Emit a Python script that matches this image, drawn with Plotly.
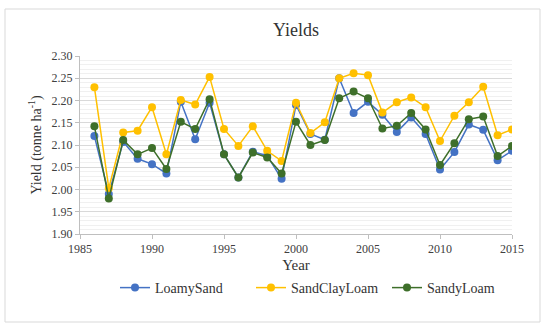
import plotly.graph_objects as go

years = list(range(1986, 2016))
loamy_sand = [2.120, 1.990, 2.107, 2.069, 2.057, 2.036, 2.197, 2.113, 2.195, 2.079,
              2.027, 2.085, 2.076, 2.024, 2.190, 2.125, 2.112, 2.250, 2.172, 2.197,
              2.168, 2.129, 2.162, 2.125, 2.045, 2.084, 2.146, 2.134, 2.066, 2.087]
sand_clay_loam = [2.230, 2.003, 2.128, 2.132, 2.185, 2.079, 2.201, 2.191, 2.253, 2.136,
                  2.098, 2.142, 2.087, 2.064, 2.195, 2.127, 2.151, 2.250, 2.261, 2.257,
                  2.173, 2.196, 2.207, 2.185, 2.109, 2.166, 2.196, 2.231, 2.122, 2.135]
sandy_loam = [2.142, 1.980, 2.111, 2.079, 2.093, 2.046, 2.152, 2.136, 2.203, 2.079,
              2.027, 2.083, 2.072, 2.036, 2.152, 2.100, 2.111, 2.205, 2.220, 2.205,
              2.137, 2.143, 2.172, 2.135, 2.055, 2.104, 2.158, 2.164, 2.075, 2.098]

series = [("LoamySand", loamy_sand, "#4472C4"),
          ("SandClayLoam", sand_clay_loam, "#FFC000"),
          ("SandyLoam", sandy_loam, "#3E6F2A")]

serif = "Liberation Serif, Times New Roman, serif"

fig = go.Figure()
for name, vals, col in series:
    fig.add_trace(go.Scatter(x=years, y=vals, name=name, mode="lines+markers",
                             line=dict(color=col, width=1.5),
                             marker=dict(color=col, size=8)))

L, R, T, B = 80, 38, 56, 97
W, H = 550 - L - R, 331 - T - B

fig.update_layout(
    width=550, height=331,
    margin=dict(l=L, r=R, t=T, b=B, autoexpand=False),
    paper_bgcolor="white", plot_bgcolor="white",
    title=dict(text="Yields", x=0.5, xanchor="center", y=1 - 30 / 331, yanchor="middle",
               xref="paper", font=dict(family=serif, size=18, color="#333333")),
    font=dict(family=serif, size=12, color="#404040"),
    showlegend=True,
    legend=dict(orientation="h", x=(319 - L) / W, xanchor="center",
                y=-(288 - 234) / H, yanchor="middle",
                font=dict(family=serif, size=14, color="#333333"),
                itemwidth=30, entrywidth=91, entrywidthmode="pixels",
                bgcolor="rgba(0,0,0,0)"),
    xaxis=dict(range=[1985, 2015], tickvals=[1985, 1990, 1995, 2000, 2005, 2010, 2015],
               showgrid=False, showline=True, linecolor="#BFBFBF", linewidth=1,
               ticks="outside", ticklen=4, tickcolor="#BFBFBF", zeroline=False,
               automargin=False,
               title=dict(text="Year", font=dict(family=serif, size=15, color="#333333"), standoff=4),
               tickfont=dict(family=serif, size=12, color="#404040")),
    yaxis=dict(range=[1.90, 2.30], dtick=0.05, tickformat=".2f",
               showgrid=True, gridcolor="#D9D9D9", gridwidth=1,
               minor=dict(dtick=0.01, showgrid=True, gridcolor="#F0F0F0", gridwidth=1),
               showline=True, linecolor="#BFBFBF", linewidth=1,
               ticks="outside", ticklen=4, tickcolor="#BFBFBF", zeroline=False,
               automargin=False,
               title=dict(text="Yield (tonne ha<sup>-1</sup>)", font=dict(family=serif, size=14, color="#333333"), standoff=6),
               tickfont=dict(family=serif, size=12, color="#404040")),
    shapes=[dict(type="rect", xref="paper", yref="paper",
                 x0=(5 - L) / W, x1=(540 - L) / W,
                 y0=-(322 - 234) / H, y1=1 + (56 - 9) / H,
                 line=dict(color="#D9D9D9", width=1), layer="below")],
)

fig.write_html("out.html", config={"displayModeBar": False},
               post_script="document.body.style.margin='0';")
